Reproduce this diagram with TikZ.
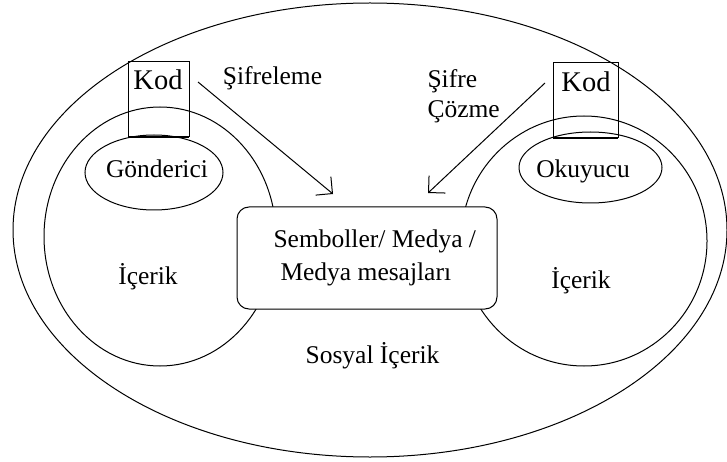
\documentclass[tikz,border=0pt]{standalone}
\usepackage{fontspec}
\setmainfont{Liberation Serif}
\usetikzlibrary{arrows.meta}
\begin{document}
\begin{tikzpicture}[x=1pt,y=-1pt,
  line width=1pt,
  lbl/.style={inner sep=0pt, font=\fontsize{25.5}{33}\selectfont},
  kodlbl/.style={inner sep=0pt, font=\fontsize{28.5}{33}\selectfont},
  flow/.style={-{Straight Barb[length=12pt,width=24pt]}, line width=1pt}]
  \useasboundingbox (0,0) rectangle (727,462);

  % social context
  \draw (370,230) ellipse [x radius=357, y radius=227];

  % sender and reader contexts
  \draw (160,236.5) ellipse [x radius=116, y radius=129.5];
  \draw (584,241) ellipse [x radius=123, y radius=125];

  % sender and reader
  \draw (154,172.5) ellipse [x radius=69, y radius=37.5];
  \draw (590.5,167.5) ellipse [x radius=71.5, y radius=35.5];
  \node[lbl, anchor=base] (gonderici) at (157,178) {Gönderici};
  \node[lbl, anchor=base] (okuyucu) at (583,178) {Okuyucu};

  % code boxes, open at the bottom edge which is drawn heavier
  \draw (128,137) -- (128,62) -- (189,62) -- (189,137);
  \draw[line width=2pt] (128,137) -- (189,137);
  \draw (553,138) -- (553,63) -- (618,63) -- (618,138);
  \draw[line width=2pt] (553,138) -- (618,138);
  \node[kodlbl, anchor=base] (kodL) at (158,90) {Kod};
  \node[kodlbl, anchor=base] (kodR) at (586,92) {Kod};

  % symbols / media box
  \node[draw, fill=white, rounded corners=12pt, minimum width=260pt,
        minimum height=102pt, inner sep=0pt] (medya) at (367,258) {};
  \node[lbl, anchor=west, align=left] (medyatxt) at (273,257.5)
    {Semboller/ Medya /\\\hspace*{7pt}Medya mesajları};

  % labels
  \node[lbl, anchor=base] (sifreleme) at (272.5,85) {Şifreleme};
  \node[lbl, anchor=base west] (sifre) at (427,88) {Şifre};
  \node[lbl, anchor=base west] (cozme) at (427,118) {Çözme};
  \node[lbl, anchor=base] (icerikL) at (148,284) {İçerik};
  \node[lbl, anchor=base] (icerikR) at (581,288) {İçerik};
  \node[lbl, anchor=base] (sosyal) at (372.5,363) {Sosyal İçerik};

  % encoding and decoding arrows
  \coordinate (encS) at (198,82);
  \coordinate (encE) at (333,194);
  \coordinate (decS) at (545,83);
  \coordinate (decE) at (428,193);
  \draw[flow] (encS) -- (encE);
  \draw[flow] (decS) -- (decE);
\end{tikzpicture}
\end{document}
